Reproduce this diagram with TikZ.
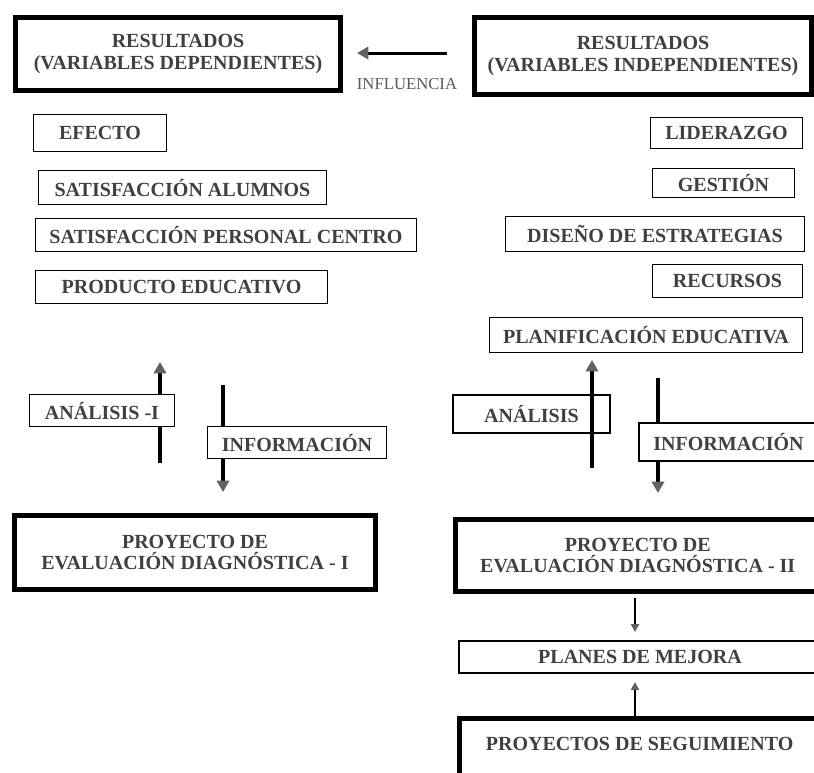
\documentclass[tikz,border=0pt]{standalone}
\usepackage{fontspec}
\setmainfont{Liberation Serif}
\usetikzlibrary{shapes,arrows.meta,positioning}

\tikzset{
    thickbox/.style={rectangle, draw, line width=3pt, fill=white, align=center, inner sep=0pt,
        font=\bfseries\fontsize{11.4}{12.5}\selectfont, text=black!75},
    thinbox/.style={rectangle, draw, line width=0.85pt, fill=white, inner sep=0pt,
        font=\bfseries\fontsize{11.4}{13}\selectfont, text=black!75},
    flow/.style={line width=2.2pt, -{Triangle[length=6.5pt,width=7pt,color=black!62]}},
    smallflow/.style={line width=1.1pt, -{Triangle[length=4.5pt,width=4.5pt,color=black!62]}}
}

\begin{document}
\begin{tikzpicture}[x=0.02cm, y=-0.02cm]

    \useasboundingbox (0,0) rectangle (814,772);
    \clip (0,0) rectangle (814,772);

    %-----Arrow ends-----
    \coordinate (anaI-s) at (160,463);
    \coordinate (anaI-e) at (160,362);
    \coordinate (infI-s) at (223,385);
    \coordinate (infI-e) at (223,492);
    \coordinate (anaII-s) at (592,468);
    \coordinate (anaII-e) at (592,360);
    \coordinate (infII-s) at (658,378);
    \coordinate (infII-e) at (658,493);
    \coordinate (infl-s) at (447,53);
    \coordinate (infl-e) at (357,53);
    \coordinate (mej-in) at (635,598);
    \coordinate (mej-top) at (635,632);
    \coordinate (mej-bot) at (635,682);

    % Arrows behind the boxes
    \draw [flow] (anaI-s) -- (anaI-e);
    \draw [flow] (infI-s) -- (infI-e);
    \draw [flow] (infII-s) -- (infII-e);

    %-----Boxes-----
    % Dependent results
    \node [thickbox, minimum width=6.5cm, minimum height=1.46cm] (resdep) at (178,54) {%
        RESULTADOS \\
        (VARIABLES DEPENDIENTES)
    };

    % Independent results
    \node [thickbox, minimum width=6.74cm, minimum height=1.54cm] (resind) at (643,56) {%
        RESULTADOS \\
        (VARIABLES INDEPENDIENTES)
    };

    % Left list
    \node [thinbox, minimum width=2.66cm, minimum height=0.74cm] (efecto) at (100,133) {EFECTO};
    \node [thinbox, minimum width=5.76cm, minimum height=0.68cm] (satalu) at (182.5,187.5) {SATISFACCIÓN ALUMNOS};
    \node [thinbox, minimum width=7.62cm, minimum height=0.66cm] (satper) at (226,235) {SATISFACCIÓN PERSONAL CENTRO};
    \node [thinbox, minimum width=5.84cm, minimum height=0.66cm] (produ) at (181.5,287) {PRODUCTO EDUCATIVO};

    % Right list
    \node [thinbox, minimum width=3.04cm, minimum height=0.62cm] (lider) at (726.5,133) {LIDERAZGO};
    \node [thinbox, minimum width=2.84cm, minimum height=0.58cm] (gestion) at (723.5,183) {GESTIÓN};
    \node [thinbox, minimum width=5.98cm, minimum height=0.70cm] (diseno) at (655,234) {DISEÑO DE ESTRATEGIAS};
    \node [thinbox, minimum width=3.00cm, minimum height=0.66cm] (recur) at (727.5,281) {RECURSOS};
    \node [thinbox, minimum width=6.26cm, minimum height=0.70cm] (planif) at (646,335) {PLANIFICACIÓN EDUCATIVA};

    % Analysis / information, left
    \node [thinbox, minimum width=2.90cm, minimum height=0.64cm] (anaI) at (102,410.5) {ANÁLISIS -I};
    \node [thinbox, minimum width=3.58cm, minimum height=0.64cm] (infI) at (297,442.5) {INFORMACIÓN};

    % Analysis / information, right
    \node [thinbox, minimum width=3.14cm, minimum height=0.76cm] (anaII) at (531.5,414) {ANÁLISIS};
    \node [thinbox, minimum width=3.58cm, minimum height=0.76cm] (infII) at (728.5,442) {INFORMACIÓN};

    % Diagnostic projects
    \node [thickbox, minimum width=7.22cm, minimum height=1.48cm] (proyI) at (195,552.5) {%
        PROYECTO DE \\
        EVALUACIÓN DIAGNÓSTICA - I
    };
    \node [thickbox, minimum width=7.29cm, minimum height=1.44cm] (proyII) at (637.75,555.5) {%
        PROYECTO DE \\
        EVALUACIÓN DIAGNÓSTICA - II
    };

    % Improvement plans
    \node [thinbox, minimum width=7.24cm, minimum height=0.64cm] (planes) at (640,657) {PLANES DE MEJORA};

    % Follow-up projects
    \node [thickbox, anchor=north west, minimum width=7.3cm, inner ysep=11pt, text depth=30pt] (seguim) at (457,715.5) {%
        PROYECTOS DE SEGUIMIENTO
    };

    %-----Arrows-----
    \draw [flow] (anaII-s) -- (anaII-e);
    \draw [flow, line width=1.7pt] (infl-s) -- (infl-e);
    \node [font=\fontsize{9.5}{11}\selectfont, text=black!65, inner sep=0pt] (infl) at (407,84) {INFLUENCIA};
    \draw [smallflow] (mej-in) -- (mej-top);
    \draw [smallflow] (seguim.north -| mej-bot) -- (mej-bot);

\end{tikzpicture}
\end{document}
